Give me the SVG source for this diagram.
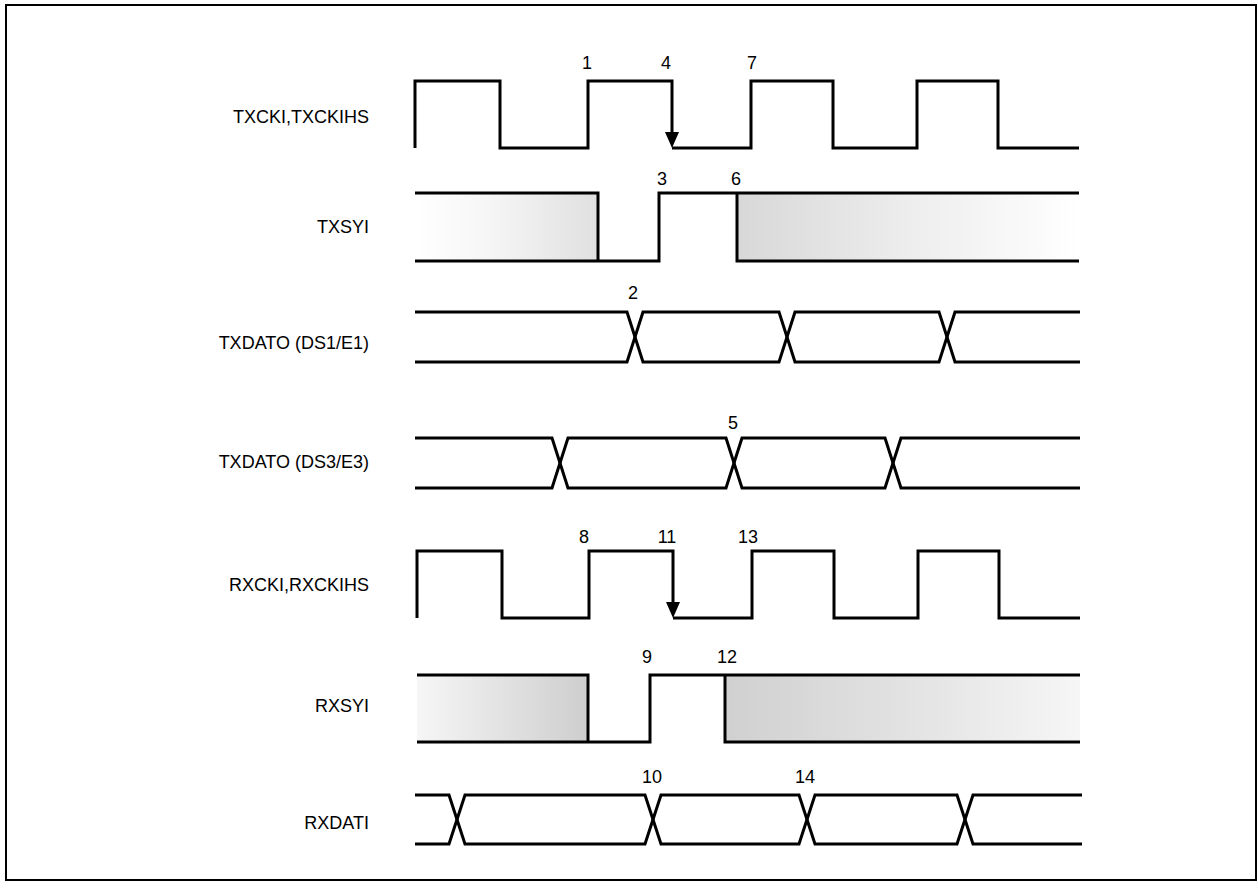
<svg xmlns="http://www.w3.org/2000/svg" width="1258" height="890" viewBox="0 0 1258 890">
<style>
.w{fill:none;stroke:#000;stroke-width:3;stroke-linejoin:miter;stroke-linecap:butt}
.lbl{font-family:"Liberation Sans",Arial,sans-serif;font-size:18px;fill:#000;text-anchor:end}
.num{font-family:"Liberation Sans",Arial,sans-serif;font-size:18px;fill:#000;text-anchor:middle}
</style>
<defs>
<linearGradient id="fadeIn" x1="0" y1="0" x2="1" y2="0">
<stop offset="0" stop-color="#ffffff"/>
<stop offset="0.4" stop-color="#f6f6f6"/>
<stop offset="1" stop-color="#e0e0e0"/>
</linearGradient>
<linearGradient id="fadeOut" x1="0" y1="0" x2="1" y2="0">
<stop offset="0" stop-color="#d8d8d8"/>
<stop offset="0.5" stop-color="#ededed"/>
<stop offset="1" stop-color="#ffffff"/>
</linearGradient>
<linearGradient id="fadeIn2" x1="0" y1="0" x2="1" y2="0">
<stop offset="0" stop-color="#f6f6f6"/>
<stop offset="0.5" stop-color="#e2e2e2"/>
<stop offset="1" stop-color="#cecece"/>
</linearGradient>
<linearGradient id="fadeOut2" x1="0" y1="0" x2="1" y2="0">
<stop offset="0" stop-color="#d0d0d0"/>
<stop offset="0.55" stop-color="#e4e4e4"/>
<stop offset="1" stop-color="#f6f6f6"/>
</linearGradient>
</defs>
<rect x="6" y="5" width="1250" height="875" fill="#fff" stroke="#000" stroke-width="2"/>

<g id="labels">
<text class="lbl" x="369" y="123">TXCKI,TXCKIHS</text>
<text class="lbl" x="369" y="233">TXSYI</text>
<text class="lbl" x="369" y="349">TXDATO (DS1/E1)</text>
<text class="lbl" x="369" y="468">TXDATO (DS3/E3)</text>
<text class="lbl" x="369" y="591">RXCKI,RXCKIHS</text>
<text class="lbl" x="369" y="712">RXSYI</text>
<text class="lbl" x="369" y="829">RXDATI</text>
</g>

<g id="numbers">
<text class="num" x="587" y="69">1</text>
<text class="num" x="666" y="69">4</text>
<text class="num" x="752" y="69">7</text>
<text class="num" x="662" y="185">3</text>
<text class="num" x="736" y="185">6</text>
<text class="num" x="633" y="299">2</text>
<text class="num" x="733" y="429">5</text>
<text class="num" x="584" y="543">8</text>
<text class="num" x="667" y="543">11</text>
<text class="num" x="748" y="543">13</text>
<text class="num" x="647" y="663">9</text>
<text class="num" x="727" y="663">12</text>
<text class="num" x="652" y="783">10</text>
<text class="num" x="805" y="783">14</text>
</g>

<g id="txcki">
<path class="w" d="M415,148 V81 H500 V148 H588 V81 H672 V132"/>
<path class="w" d="M672,148 H751 V81 H833 V148 H917 V81 H998 V148 H1079"/>
<path d="M665,132 L679,132 L672,148 Z" fill="#000"/>
</g>

<g id="txsyi">
<rect x="415" y="193" width="183" height="68" fill="url(#fadeIn)"/>
<rect x="737" y="193" width="342" height="68" fill="url(#fadeOut)"/>
<path class="w" d="M415,193 H598 V261"/>
<path class="w" d="M415,261 H659 V193 H1079"/>
<path class="w" d="M737,193 V261 H1079"/>
</g>

<g id="txdato-ds1">
<path class="w" d="M415,312 H627 L643,362 H779 L795,312 H939 L955,362 H1080"/>
<path class="w" d="M415,362 H627 L643,312 H779 L795,362 H939 L955,312 H1080"/>
</g>

<g id="txdato-ds3">
<path class="w" d="M415,438 H552 L568,488 H726 L742,438 H885 L901,488 H1080"/>
<path class="w" d="M415,488 H552 L568,438 H726 L742,488 H885 L901,438 H1080"/>
</g>

<g id="rxcki">
<path class="w" d="M417,618 V551 H502 V618 H589 V551 H673 V602"/>
<path class="w" d="M673,618 H752 V551 H834 V618 H918 V551 H999 V618 H1080"/>
<path d="M666,602 L680,602 L673,618 Z" fill="#000"/>
</g>

<g id="rxsyi">
<rect x="417" y="675" width="171" height="67" fill="url(#fadeIn2)"/>
<rect x="725" y="675" width="355" height="67" fill="url(#fadeOut2)"/>
<path class="w" d="M417,675 H588 V742"/>
<path class="w" d="M417,742 H650 V675 H1080"/>
<path class="w" d="M725,675 V742 H1080"/>
</g>

<g id="rxdati">
<path class="w" d="M415,795 H449 L465,844 H645 L661,795 H799 L815,844 H957 L973,795 H1082"/>
<path class="w" d="M415,844 H449 L465,795 H645 L661,844 H799 L815,795 H957 L973,844 H1082"/>
</g>
</svg>
